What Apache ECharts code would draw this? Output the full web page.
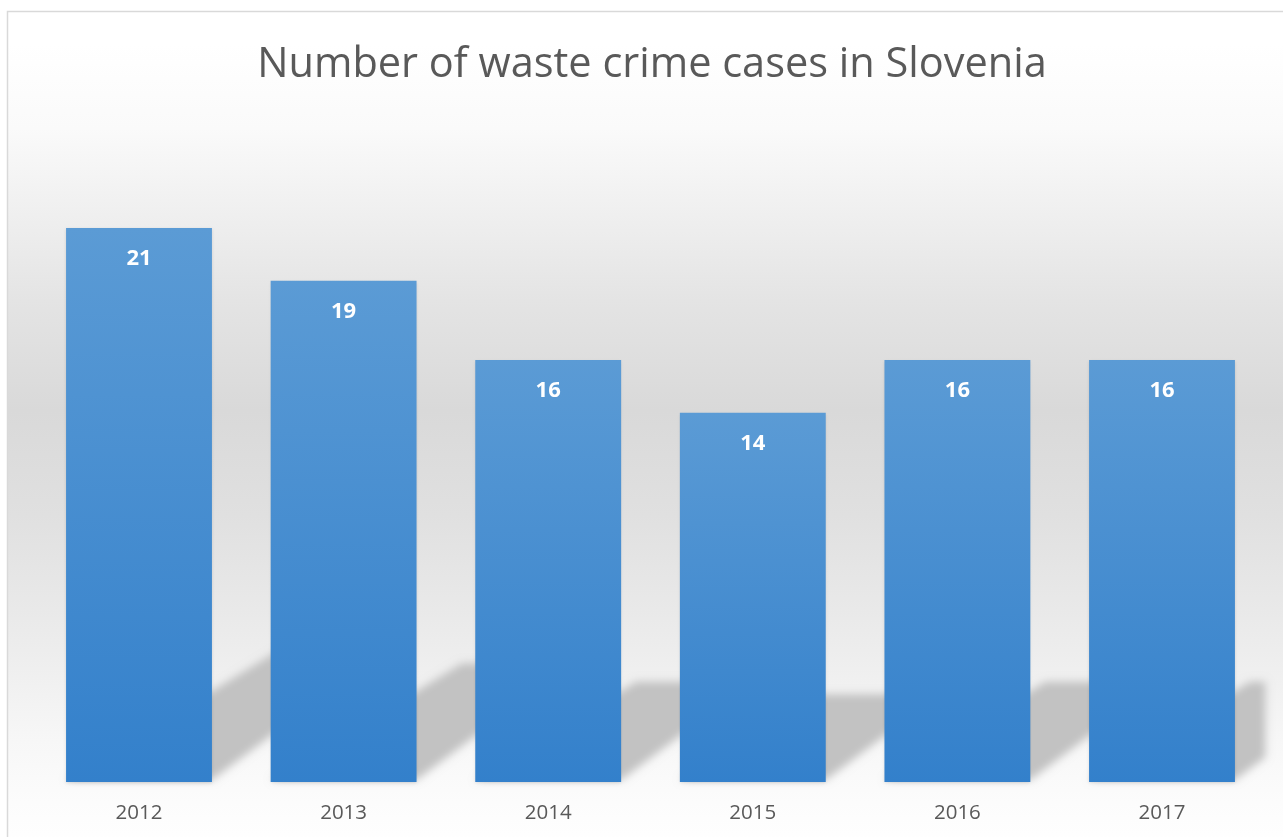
<!DOCTYPE html>
<html>
<head>
<meta charset="utf-8">
<script src="https://cdn.jsdelivr.net/npm/echarts@6/dist/echarts.min.js"></script>
<style>
  html, body { margin: 0; padding: 0; background: #ffffff; }
  #chart { width: 1283px; height: 837px; }
</style>
</head>
<body>
<div id="chart"></div>
<script>
const titleText = 'Number of waste crime cases in Slovenia';
const categories = ['2012', '2013', '2014', '2015', '2016', '2017'];
const cases = [21, 19, 16, 14, 16, 16];
const yMin = 0;
const yMax = 25;

const chart = echarts.init(document.getElementById('chart'), null, { renderer: 'canvas' });
const BAR_RATIO = 0.713;
const OFF = 3000;

function clipRight(points, xR) {
  const out = [];
  for (let k = 0; k < points.length; k++) {
    const a = points[k];
    const b = points[(k + 1) % points.length];
    const aIn = a[0] <= xR, bIn = b[0] <= xR;
    if (aIn) out.push(a);
    if (aIn !== bIn) {
      const t = (xR - a[0]) / (b[0] - a[0]);
      out.push([xR, a[1] + t * (b[1] - a[1])]);
    }
  }
  return out;
}

const option = {
  animation: false,
  backgroundColor: '#ffffff',
  title: {
    text: titleText,
    left: 647,
    textAlign: 'center',
    top: 39,
    textStyle: { fontFamily: 'Open Sans', fontWeight: 'normal', fontSize: 41.5, color: '#595959' }
  },
  graphic: {
    elements: [{
      type: 'rect',
      z: -100,
      silent: true,
      shape: { x: 7.5, y: 11.5, width: 1320, height: 840 },
      style: {
        stroke: '#d9d9d9',
        lineWidth: 1.5,
        fill: new echarts.graphic.LinearGradient(0, 0, 0, 1, [
          { offset: 0, color: '#ffffff' },
          { offset: 0.04, color: '#ffffff' },
          { offset: 0.14, color: '#fafafa' },
          { offset: 0.225, color: '#f1f1f1' },
          { offset: 0.344, color: '#e4e4e4' },
          { offset: 0.475, color: '#d9d9d9' },
          { offset: 0.6, color: '#e0e0e0' },
          { offset: 0.76, color: '#ededed' },
          { offset: 0.868, color: '#f7f7f7' },
          { offset: 0.94, color: '#fcfcfc' },
          { offset: 1, color: '#ffffff' }
        ])
      }
    }]
  },
  grid: { left: 36.7, right: 18.7, top: 122.5, bottom: 55, containLabel: false },
  xAxis: {
    type: 'category',
    data: categories,
    axisLine: { show: false },
    axisTick: { show: false },
    axisLabel: { margin: 21, fontFamily: 'Open Sans', fontSize: 20.5, color: '#595959' },
    splitLine: { show: false }
  },
  yAxis: {
    type: 'value',
    min: yMin,
    max: yMax,
    show: false,
    splitLine: { show: false }
  },
  series: [
    {
      type: 'custom',
      z: 1,
      clip: false,
      silent: true,
      data: cases.map((v, i) => [i, v]),
      renderItem: function (params, api) {
        const i = api.value(0);
        const top = api.coord([i, api.value(1)]);
        const base = api.coord([i, 0]);
        const bw = api.size([1, 0])[0] * BAR_RATIO;
        const x0 = base[0] - bw / 2;
        const x1 = base[0] + bw / 2;
        const y0 = base[1] - 2;
        const dy = 0.235 * (base[1] - top[1]) - 1;
        const xR = params.coordSys.x + params.coordSys.width + 1;
        let pts = [
          [x0, y0],
          [x1, y0],
          [x1 + dy / 0.75, y0 - dy],
          [x0 + dy / 0.61, y0 - dy]
        ];
        pts = clipRight(pts, xR).map(p => [p[0] - OFF, p[1]]);
        return {
          type: 'polygon',
          shape: { points: pts },
          style: {
            fill: '#c4c4c4',
            shadowBlur: 8,
            shadowOffsetX: OFF,
            shadowOffsetY: 0,
            shadowColor: '#c2c2c2'
          }
        };
      }
    },
    {
      type: 'bar',
      z: 2,
      data: cases,
      barWidth: (BAR_RATIO * 100) + '%',
      itemStyle: {
        color: new echarts.graphic.LinearGradient(0, 0, 0, 1, [
          { offset: 0, color: '#5b9bd5' },
          { offset: 1, color: '#3380cb' }
        ]),
        shadowBlur: 3,
        shadowOffsetY: 1,
        shadowColor: 'rgba(0,0,0,0.12)'
      },
      label: {
        show: true,
        position: 'insideTop',
        distance: 20,
        fontFamily: 'Open Sans',
        fontWeight: 'bold',
        fontSize: 22,
        color: '#ffffff'
      }
    }
  ]
};

chart.setOption(option);
</script>
</body>
</html>
